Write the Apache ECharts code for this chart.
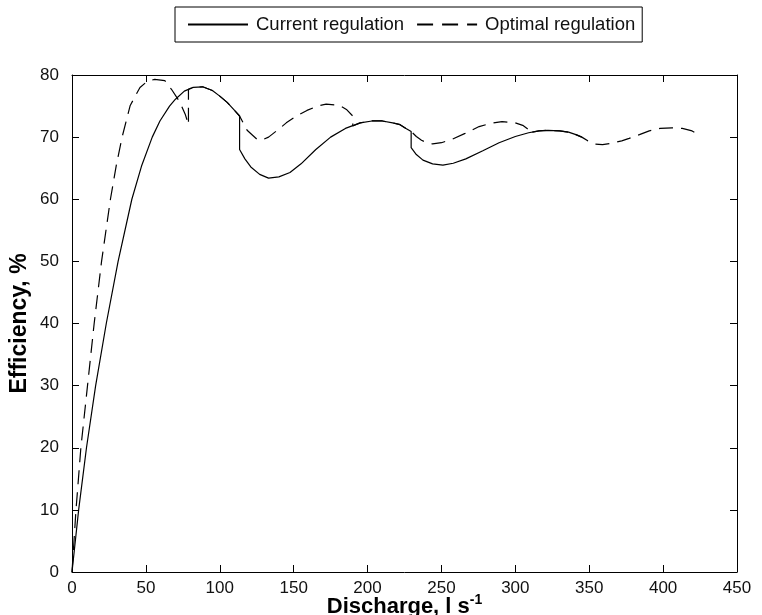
<!DOCTYPE html>
<html>
<head>
<meta charset="utf-8">
<script src="https://cdn.jsdelivr.net/npm/echarts@6/dist/echarts.min.js"></script>
<style>html,body{margin:0;padding:0;background:#fff;}#c{width:762px;height:615px;}</style>
</head>
<body>
<div id="c"></div>
<script>
const seriesNames = ['Current regulation', 'Optimal regulation'];
const xTicks = [0, 50, 100, 150, 200, 250, 300, 350, 400, 450];
const yTicks = [0, 10, 20, 30, 40, 50, 60, 70, 80];

// Current regulation: discharge (l/s), efficiency (%)
const currentX = [0, 4.5, 9.8, 16, 23.2, 31.2, 40.5, 47, 54.3, 59.5, 66, 70, 76, 82, 88.4, 95, 100, 105, 110, 113.4,
  113.4, 117, 121, 127, 133, 140, 147.5, 155, 165, 175, 185, 195, 203, 210, 217, 222, 226, 229.5,
  229.5, 233, 237.5, 244, 251, 258, 266.5, 278, 289, 300, 309, 316, 322, 330, 336, 341, 345];
const currentY = [0, 10, 20, 30, 40, 50, 60, 65.3, 70, 72.6, 75, 76.1, 77.4, 78, 78.1, 77.5, 76.6, 75.6, 74.3, 73.4,
  68, 66.5, 65.2, 64, 63.4, 63.6, 64.3, 65.7, 68, 70, 71.4, 72.3, 72.6, 72.6, 72.3, 72, 71.4, 70.9,
  68.3, 67.2, 66.3, 65.7, 65.5, 65.8, 66.5, 67.8, 69.1, 70.1, 70.7, 71, 71.1, 71, 70.8, 70.4, 70];

// Optimal regulation
const optimalX = [0, 2.7, 6, 10.5, 15, 20, 26, 30, 33.9, 39.4, 46, 51, 56, 62.8, 67.3, 72.8, 76.6, 78.8,
  78.8, 82, 88.4, 95, 100, 105, 110, 113.4,
  118.5, 125, 128, 133, 140, 145, 152, 159, 166, 172, 181, 186, 190,
  190, 195, 203, 210, 217, 222, 226, 229.5,
  233, 236.5, 240, 244, 250, 257.6, 266, 275.5, 283, 291, 300, 305, 309,
  309, 316, 322, 330, 336, 341, 345,
  349, 353.6, 359, 365, 372, 377, 384, 390.6, 398, 406, 413, 419.6, 424];
const optimalY = [0, 10, 20, 30, 40, 50, 60, 65.5, 70, 75.1, 78, 79, 79.3, 79.1, 77.7, 75.7, 73.7, 72,
  77.7, 78, 78.1, 77.5, 76.6, 75.6, 74.3, 73.4,
  71.1, 69.7, 69.5, 70, 71.3, 72.3, 73.4, 74.3, 75, 75.3, 75.1, 74.4, 73.4,
  71.8, 72.3, 72.6, 72.6, 72.3, 72, 71.4, 70.9,
  70.1, 69.5, 69.1, 68.9, 69.1, 69.7, 70.6, 71.7, 72.2, 72.5, 72.3, 71.9, 71.2,
  70.7, 71, 71.1, 71, 70.8, 70.4, 70,
  69.4, 68.9, 68.8, 69, 69.4, 69.8, 70.4, 71, 71.4, 71.5, 71.4, 71, 70.4];

const zip = (xs, ys) => xs.map((x, i) => [x, ys[i]]);
const FONT = 'Liberation Sans, Arial, Helvetica, sans-serif';
const axisLine = { show: true, onZero: false, lineStyle: { color: '#000', width: 1 } };
const tick = { show: true, inside: true, length: 7, lineStyle: { color: '#000' } };

const chart = echarts.init(document.getElementById('c'), null, { renderer: 'canvas' });
chart.setOption({
  animation: false,
  backgroundColor: '#fff',
  grid: { left: 72, right: 25, top: 75, bottom: 43, containLabel: false, outerBoundsMode: 'none' },
  legend: {
    left: 175, top: 7,
    data: [
      { name: seriesNames[0] },
      { name: seriesNames[1], lineStyle: { type: [16, 9] } }
    ],
    borderColor: '#000', borderWidth: 1,
    padding: [8, 7, 8, 12],
    itemGap: 12,
    itemWidth: 60, itemHeight: 12,
    itemStyle: { opacity: 0 },
    textStyle: { fontFamily: FONT, fontSize: 18.5, color: '#111', padding: [0, 0, 0, 3] }
  },
  xAxis: [{
    type: 'value', min: xTicks[0], max: xTicks[xTicks.length - 1], interval: 50,
    name: '{b|Discharge, l s}{sup|-1}', nameLocation: 'middle', nameGap: 21, nameMoveOverlap: false,
    nameTextStyle: { rich: {
      b: { fontFamily: FONT, fontSize: 22, fontWeight: 'bold', color: '#000' },
      sup: { fontFamily: FONT, fontSize: 14, fontWeight: 'bold', color: '#000', padding: [0, 0, 13, 0] }
    } },
    axisLine, axisTick: tick, splitLine: { show: false },
    axisLabel: { fontFamily: FONT, fontSize: 17, color: '#111', margin: 8 }
  }, {
    type: 'value', position: 'top', min: 0, max: 450, interval: 50,
    axisLine, axisTick: tick, splitLine: { show: false }, axisLabel: { show: false }
  }],
  yAxis: [{
    type: 'value', min: yTicks[0], max: yTicks[yTicks.length - 1], interval: 10,
    name: 'Efficiency, %', nameLocation: 'middle', nameGap: 41, nameMoveOverlap: false,
    nameTextStyle: { fontFamily: FONT, fontSize: 23, fontWeight: 'bold', color: '#000' },
    axisLine, axisTick: tick, splitLine: { show: false },
    axisLabel: { fontFamily: FONT, fontSize: 17, color: '#111', margin: 13 }
  }, {
    type: 'value', position: 'right', min: 0, max: 80, interval: 10,
    axisLine, axisTick: tick, splitLine: { show: false }, axisLabel: { show: false }
  }],
  series: [{
    name: seriesNames[0], type: 'line', data: zip(currentX, currentY),
    showSymbol: false, symbol: 'none', smooth: false,
    lineStyle: { color: '#000', width: 1.2, type: 'solid' }, itemStyle: { color: '#000' }
  }, {
    name: seriesNames[1], type: 'line', data: zip(optimalX, optimalY),
    showSymbol: false, symbol: 'none', smooth: false,
    lineStyle: { color: '#000', width: 1.2, type: [14, 8] }, itemStyle: { color: '#000' }
  }]
});
</script>
</body>
</html>
